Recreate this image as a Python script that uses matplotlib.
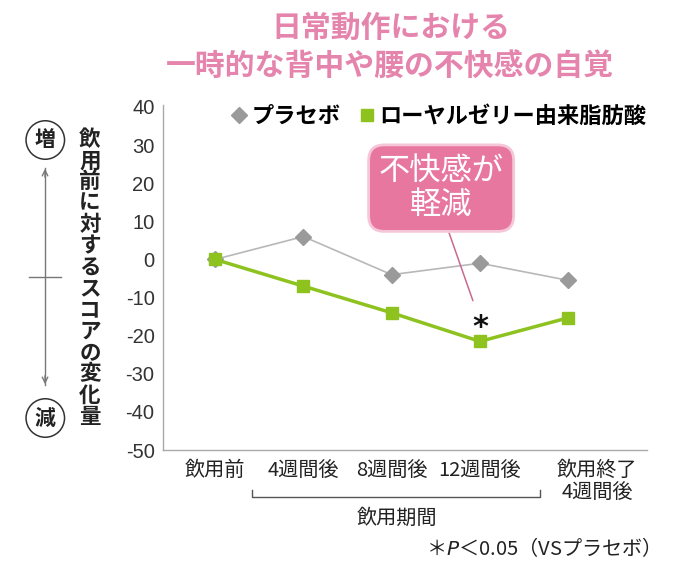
import matplotlib
matplotlib.use("Agg")
import matplotlib.pyplot as plt
import matplotlib.transforms as mtransforms

plt.rcParams['font.family'] = ['Noto Sans CJK JP', 'DejaVu Sans']

# データ
periods = ['飲用前', '4週間後', '8週間後', '12週間後', '飲用終了\n4週間後']
placebo = [0, 6, -4, -1, -5.5]
royal_jelly = [0, -7, -14, -21.5, -15.3]
y_ticks = [40, 30, 20, 10, 0, -10, -20, -30, -40, -50]

pink = '#e585ad'
green = '#8dc21f'
gray_marker = '#9a9a9a'
gray_line = '#b8b8b8'

fig = plt.figure(figsize=(6.76, 5.77), dpi=100)
ax = fig.add_axes([0.241, 0.220, 0.716, 0.598])

x = list(range(len(periods)))
ax.plot(x, placebo, color=gray_line, lw=1.2, marker='D', ms=8.5,
        mfc=gray_marker, mec=gray_marker, label='プラセボ', zorder=3)
ax.plot(x, royal_jelly, color=green, lw=2.5, marker='s', ms=8.5,
        mfc=green, mec=green, label='ローヤルゼリー由来脂肪酸', zorder=4)

ax.set_xlim(-0.59, 4.89)
ax.set_ylim(-50, 40.5)
ax.set_yticks(y_ticks)
ax.set_yticklabels([str(v) for v in y_ticks], fontsize=14.5, color='#333333',
                   family=['Liberation Sans', 'DejaVu Sans'])
ax.set_xticks(x)
ax.set_xticklabels(periods, fontsize=14.5, color='#222222', linespacing=1.05,
                   va='top')
ax.tick_params(length=0, pad=6)
ax.tick_params(axis='x', pad=7)
# 最後のラベルを少し右へ
lbl = ax.get_xticklabels()[-1]
lbl.set_transform(lbl.get_transform() + mtransforms.ScaledTranslation(0.29, 0, fig.dpi_scale_trans))

for s in ['top', 'right']:
    ax.spines[s].set_visible(False)
for s in ['left', 'bottom']:
    ax.spines[s].set_color('#aaaaaa')
    ax.spines[s].set_linewidth(1)

# 凡例
leg = ax.legend(loc='lower right', bbox_to_anchor=(1.04, 0.875), ncol=2, frameon=False,
                handlelength=0.6, handletextpad=0.25, columnspacing=0.9,
                prop={'size': 16, 'weight': 'bold'})
for h in leg.legend_handles:
    h.set_linestyle('none')
    h.set_markersize(8)

# 吹き出し
ax.annotate('', xy=(2.93, -11.5), xytext=(2.64, 7.6),
            arrowprops=dict(arrowstyle='-', color='#c86a90', lw=1.1))
ax.text(2.56, 18.7, '不快感が\n軽減', ha='center', va='center', fontsize=22.5,
        color='white', linespacing=1.1,
        bbox=dict(boxstyle='round,pad=0.32,rounding_size=0.5', fc='#e8779f',
                  ec='#f5c6d8', lw=2))
ax.text(3.0, -17.8, '*', ha='center', va='center', fontsize=22, color='#111111',
        fontweight='bold', family=['DejaVu Sans'])

# タイトル
fig.text(0.579, 1 - 28 / 577, '日常動作における', ha='center', va='center',
         fontsize=21.5, fontweight='bold', color=pink)
fig.text(0.577, 1 - 67 / 577, '一時的な背中や腰の不快感の自覚', ha='center', va='center',
         fontsize=21.5, fontweight='bold', color=pink)

# 縦軸ラベル
ylabel = '飲用前に対するスコアの変化量'
fig.text(0.133, 1 - 278 / 577, '\n'.join(ylabel), ha='center', va='center',
         fontsize=15.5, fontweight='bold', color='#222222', linespacing=1.02)

# 増・減
for ch, yy in [('増', 140), ('減', 418)]:
    fig.text(0.067, 1 - yy / 577, ch, ha='center', va='center', fontsize=15,
             fontweight='bold', color='#222222',
             bbox=dict(boxstyle='circle,pad=0.42', fc='white', ec='#333333', lw=1.1))
fig.add_artist(plt.Line2D([0.0666, 0.0666], [1 - 168 / 577, 1 - 385 / 577],
                          color='#777777', lw=1))
fig.add_artist(plt.Line2D([29 / 676, 61 / 676], [1 - 277 / 577, 1 - 277 / 577],
                          color='#777777', lw=1))
ax.annotate('', xy=(0.0666, 1 - 166 / 577), xytext=(0.0666, 1 - 180 / 577),
            xycoords='figure fraction', textcoords='figure fraction',
            arrowprops=dict(arrowstyle='->', color='#777777', lw=1))
ax.annotate('', xy=(0.0666, 1 - 387 / 577), xytext=(0.0666, 1 - 373 / 577),
            xycoords='figure fraction', textcoords='figure fraction',
            arrowprops=dict(arrowstyle='->', color='#777777', lw=1))

# 飲用期間の括弧
by = 1 - 497 / 577
fig.add_artist(plt.Line2D([252 / 676, 252 / 676, 540 / 676, 540 / 676],
                          [1 - 490 / 577, by, by, 1 - 490 / 577],
                          color='#555555', lw=1))
fig.text(397 / 676, 1 - 518 / 577, '飲用期間', ha='center', va='center',
         fontsize=14.5, color='#222222')

# 注記
fig.text(650 / 676, 1 - 548 / 577, '＊$\\it{P}$＜0.05（VSプラセボ）', ha='right',
         va='center', fontsize=14.5, color='#222222')

fig.savefig('out.png', dpi=100)
